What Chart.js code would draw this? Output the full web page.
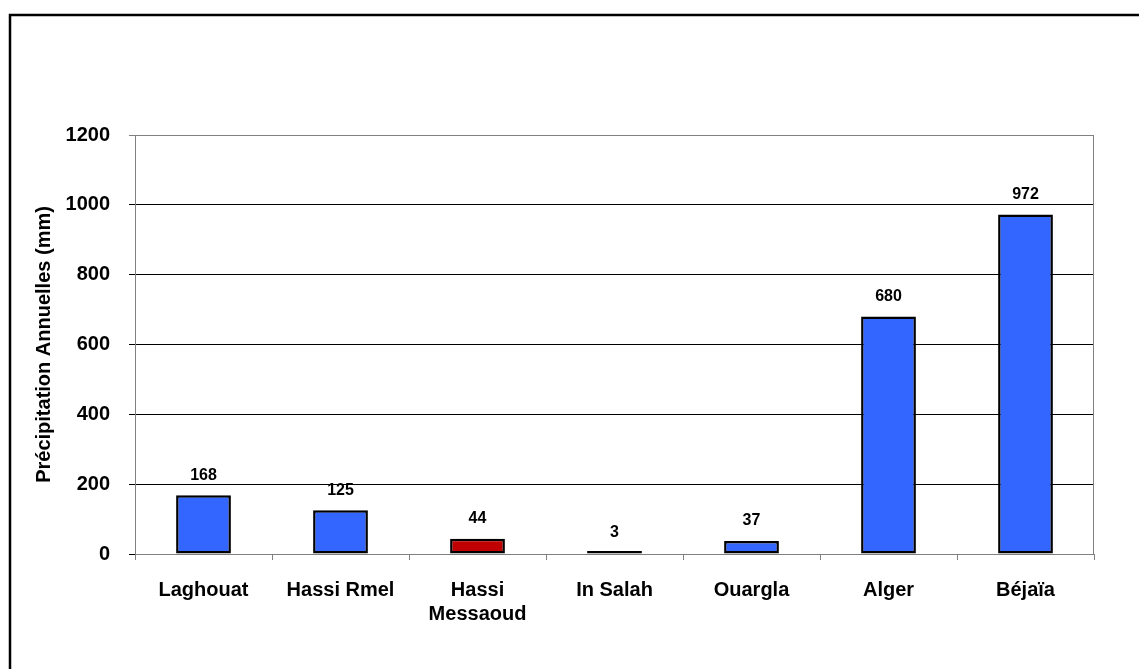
<!DOCTYPE html>
<html>
<head>
<meta charset="utf-8">
<script src="https://cdn.jsdelivr.net/npm/chart.js@4.4.1/dist/chart.umd.min.js"></script>
<style>
  html, body { margin: 0; padding: 0; background: #fff; }
  #wrap { width: 1139px; height: 669px; position: relative; }
</style>
</head>
<body>
<div id="wrap"><canvas id="c" width="1139" height="669"></canvas></div>
<script>
// ---- data ----
const categories = [["Laghouat"], ["Hassi Rmel"], ["Hassi", "Messaoud"], ["In Salah"], ["Ouargla"], ["Alger"], ["Béjaïa"]];
const precipitation = [168, 125, 44, 3, 37, 680, 972];
const yTicks = [0, 200, 400, 600, 800, 1000, 1200];
const yTitle = "Précipitation Annuelles (mm)";
const highlightIndex = 2;

// ---- styles ----
const FONT = '"Liberation Sans", Arial, Helvetica, sans-serif';
const BLUE = '#3366FF';
const RED = '#C00000';
const barColors = precipitation.map((v, i) => i === highlightIndex ? RED : BLUE);

const frame = {
  id: 'frame',
  beforeDraw(chart) {
    const ctx = chart.ctx;
    ctx.save();
    ctx.fillStyle = '#fff';
    ctx.fillRect(0, 0, chart.width, chart.height);
    ctx.restore();
  },
  beforeDatasetsDraw(chart) {
    const ctx = chart.ctx, a = chart.chartArea;
    ctx.save();
    ctx.strokeStyle = '#808080';
    ctx.lineWidth = 1;
    ctx.beginPath();
    ctx.moveTo(a.right - 0.5, a.top);
    ctx.lineTo(a.right - 0.5, a.bottom);
    ctx.stroke();
    ctx.restore();
  },
  afterDraw(chart) {
    const ctx = chart.ctx;
    ctx.save();
    ctx.strokeStyle = '#000';
    ctx.lineWidth = 2.5;
    ctx.beginPath();
    ctx.moveTo(chart.width, 15);
    ctx.lineTo(10, 15);
    ctx.lineTo(10, chart.height);
    ctx.stroke();
    ctx.restore();
  }
};

const valueLabels = {
  id: 'valueLabels',
  afterDatasetsDraw(chart) {
    const ctx = chart.ctx;
    const meta = chart.getDatasetMeta(0);
    const yScale = chart.scales.y;
    ctx.save();
    ctx.font = 'bold 16px ' + FONT;
    ctx.fillStyle = '#000';
    ctx.textAlign = 'center';
    ctx.textBaseline = 'middle';
    meta.data.forEach((el, i) => {
      const v = chart.data.datasets[0].data[i];
      ctx.fillText(String(v), el.x, yScale.getPixelForValue(v) - 20);
    });
    ctx.restore();
  }
};

new Chart(document.getElementById('c'), {
  type: 'bar',
  data: {
    labels: categories,
    datasets: [{
      data: precipitation,
      backgroundColor: barColors,
      borderColor: '#000',
      borderWidth: 2.5,
      borderSkipped: false,
      minBarLength: 3,
      barPercentage: 0.4,
      categoryPercentage: 1.0
    }]
  },
  options: {
    responsive: false,
    animation: false,
    devicePixelRatio: 1,
    layout: { padding: { top: 135, right: 45, bottom: 0, left: 0 } },
    plugins: {
      legend: { display: false },
      tooltip: { enabled: false },
      title: { display: false }
    },
    scales: {
      x: {
        afterFit(s) { s.height = 115; },
        grid: {
          offset: true,
          drawOnChartArea: false,
          drawTicks: true,
          tickLength: 6,
          color: '#808080',
          lineWidth: 1
        },
        border: { display: true, color: '#808080', width: 1 },
        ticks: {
          color: '#000',
          padding: 18,
          maxRotation: 0,
          autoSkip: false,
          font: { family: FONT, size: 20, weight: 'bold', lineHeight: 1.2 }
        }
      },
      y: {
        min: 0,
        max: 1200,
        afterFit(s) { s.width = 135; },
        afterBuildTicks(s) { s.ticks = yTicks.map(v => ({ value: v })); },
        grid: {
          color: (c) => (c.tick && c.tick.value === 1200) ? '#808080' : '#000',
          lineWidth: 1,
          drawTicks: true,
          tickLength: 6
        },
        border: { display: true, color: '#808080', width: 1 },
        ticks: {
          color: '#000',
          padding: 19,
          callback: (v) => String(v),
          font: { family: FONT, size: 20, weight: 'bold' }
        },
        title: {
          display: true,
          text: yTitle,
          color: '#000',
          padding: { top: 32, bottom: 0 },
          font: { family: FONT, size: 20, weight: 'bold', lineHeight: 1.2 }
        }
      }
    }
  },
  plugins: [frame, valueLabels]
});
</script>
</body>
</html>
